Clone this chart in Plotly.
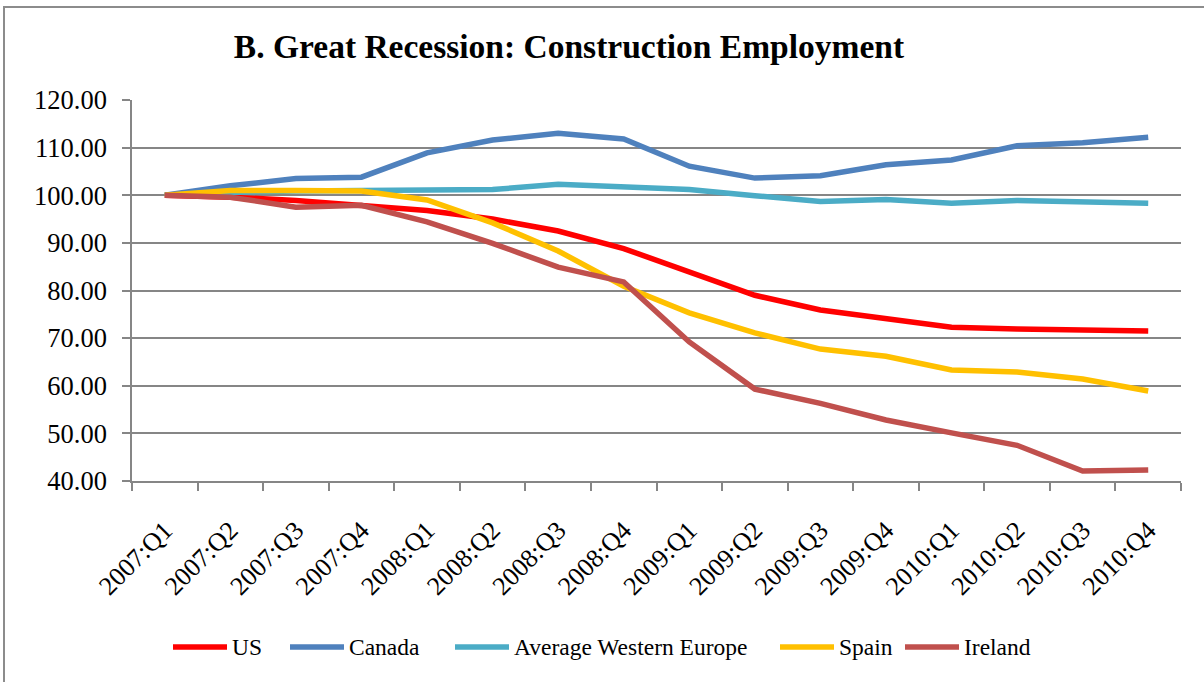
import plotly.graph_objects as go

# Quarterly index of construction employment (2007:Q1 = 100)
quarters = [
    "2007:Q1", "2007:Q2", "2007:Q3", "2007:Q4",
    "2008:Q1", "2008:Q2", "2008:Q3", "2008:Q4",
    "2009:Q1", "2009:Q2", "2009:Q3", "2009:Q4",
    "2010:Q1", "2010:Q2", "2010:Q3", "2010:Q4",
]

us = [100.0, 99.6, 98.9, 97.9, 96.8, 95.0, 92.5, 88.8,
      83.9, 79.0, 75.9, 74.0, 72.3, 71.9, 71.7, 71.5]
canada = [100.0, 102.0, 103.5, 103.8, 108.9, 111.6, 113.0, 111.8,
          106.1, 103.6, 104.1, 106.4, 107.4, 110.4, 111.0, 112.2]
avg_western_europe = [100.0, 100.6, 100.9, 101.0, 100.9, 101.2, 102.3, 101.7,
                      101.2, 99.9, 98.7, 99.1, 98.3, 98.9, 98.6, 98.3]
spain = [100.0, 101.0, 101.0, 100.9, 99.0, 94.2, 88.3, 80.9,
         75.3, 71.1, 67.7, 66.2, 63.3, 62.9, 61.4, 58.9]
ireland = [100.0, 99.6, 97.5, 97.9, 94.4, 89.9, 84.9, 81.8,
           69.2, 59.3, 56.3, 52.8, 50.1, 47.5, 42.1, 42.3]

series_names = ["US", "Canada", "Average Western Europe", "Spain", "Ireland"]
series_values = [us, canada, avg_western_europe, spain, ireland]
series_colors = ["#FF0000", "#4F81BD", "#4BACC6", "#FFC000", "#C0504D"]

y_ticks = [40, 50, 60, 70, 80, 90, 100, 110, 120]

FONT = "Liberation Serif"
GRID = "#868686"

W, H = 1204, 682
L, R, T, B = 132, 23, 100, 201
PW, PH = W - L - R, H - T - B


def px(x):
    return (x - L) / PW


def py(y):
    return (H - B - y) / PH


fig = go.Figure()
for name, vals, color in zip(series_names, series_values, series_colors):
    fig.add_trace(go.Scatter(
        x=quarters, y=vals, name=name, mode="lines",
        line=dict(color=color, width=5.5), showlegend=False,
    ))

# frame around the chart area
shapes = [dict(type="rect", xref="paper", yref="paper",
               x0=px(4), x1=px(1215), y0=py(7), y1=py(700),
               line=dict(color="#8C8C8C", width=2), layer="below")]

# legend row along the bottom
annotations = []
legend_line_x = [173, 290, 455, 780, 905]
legend_y = 647
for name, color, x0 in zip(series_names, series_colors, legend_line_x):
    shapes.append(dict(type="line", xref="paper", yref="paper",
                       x0=px(x0), x1=px(x0 + 54), y0=py(legend_y), y1=py(legend_y),
                       line=dict(color=color, width=5.5)))
    annotations.append(dict(xref="paper", yref="paper", x=px(x0 + 57), y=py(legend_y),
                            text=name, showarrow=False, xanchor="left", yanchor="middle",
                            font=dict(family=FONT, size=23.5, color="#000000")))

fig.update_layout(
    width=W, height=H,
    margin=dict(l=L, r=R, t=T, b=B),
    paper_bgcolor="white", plot_bgcolor="white",
    title=dict(text="<b>B. Great Recession: Construction Employment</b>",
               x=569 / W, xanchor="center", y=1 - 46 / H, yanchor="middle",
               font=dict(family=FONT, size=33.5, color="#000000")),
    shapes=shapes, annotations=annotations,
    showlegend=False,
)
fig.update_xaxes(
    type="category", range=[-0.5, 15.5],
    showgrid=False, showline=True, linecolor=GRID, linewidth=1.5,
    ticks="outside", tickson="boundaries", ticklen=8, tickcolor=GRID, tickwidth=1.5,
    tickangle=-45, ticklabelstandoff=22,
    tickfont=dict(family=FONT, size=26, color="#000000"),
)
fig.update_yaxes(
    range=[40, 120], tickvals=y_ticks, tickformat=".2f",
    showgrid=True, gridcolor=GRID, gridwidth=1.5, zeroline=False,
    showline=True, linecolor=GRID, linewidth=1.5,
    ticks="outside", ticklen=8, tickcolor=GRID, tickwidth=1.5, ticklabelstandoff=10,
    tickfont=dict(family=FONT, size=26.5, color="#000000"),
)

fig.write_html("out.html")
